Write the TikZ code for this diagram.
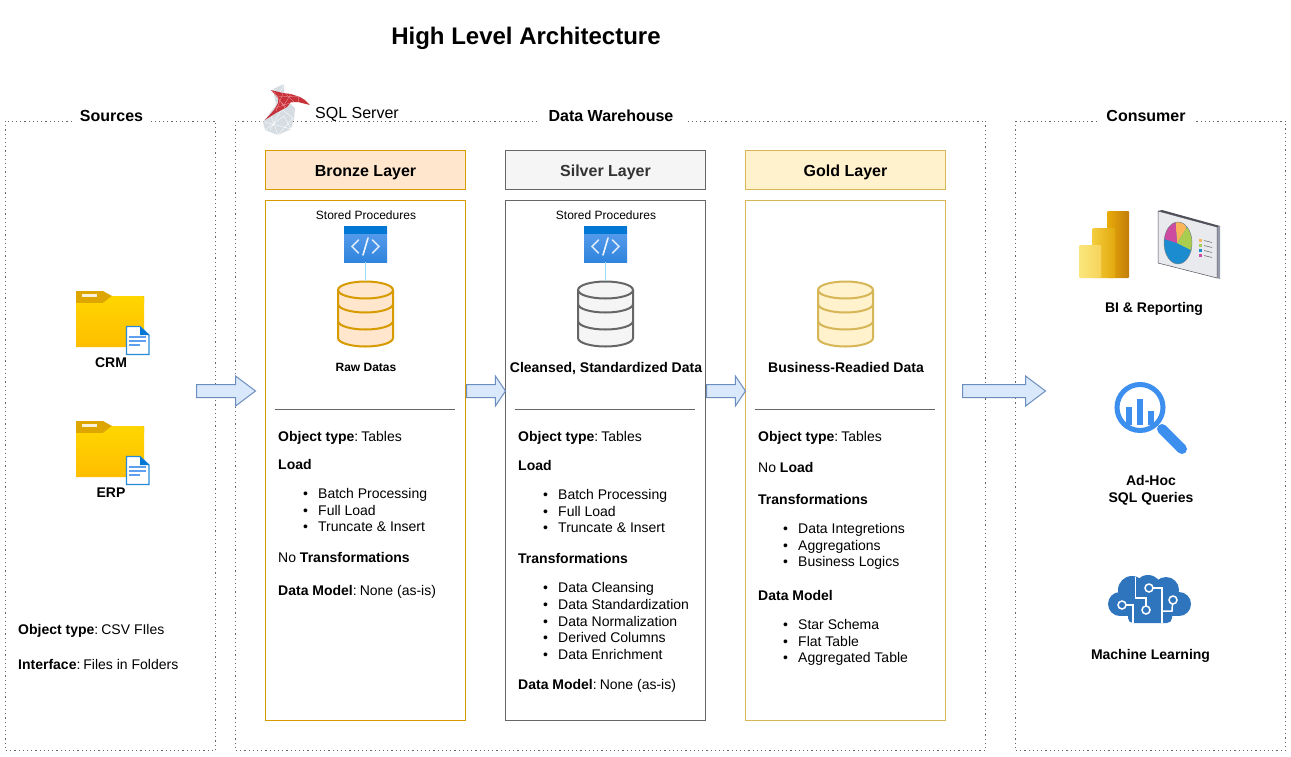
\documentclass[tikz,border=0pt]{standalone}
\usepackage{fontspec}
\setmainfont{Liberation Sans}
\usetikzlibrary{shapes.arrows,calc}
\definecolor{bronzeD}{HTML}{D79B00}\definecolor{bronzeF}{HTML}{FFE6CC}
\definecolor{silverD}{HTML}{666666}\definecolor{silverF}{HTML}{F5F5F5}
\definecolor{goldD}{HTML}{D6B656}\definecolor{goldF}{HTML}{FFF2CC}
\definecolor{arrowD}{HTML}{6C8EBF}\definecolor{arrowF}{HTML}{DAE8FC}
\definecolor{azure}{HTML}{0078D4}\definecolor{azureL}{HTML}{5EA0EF}\definecolor{azureB}{HTML}{2F84DC}
\definecolor{linkC}{HTML}{9ADCF5}
\definecolor{cloudC}{HTML}{2F75BD}\definecolor{lensC}{HTML}{3D8FEF}
\definecolor{sqlR}{HTML}{C8323A}\definecolor{sqlG}{HTML}{D5DDE2}\definecolor{sqlM}{HTML}{EFA0A5}
\definecolor{folderD}{HTML}{DDA600}\definecolor{folderT}{HTML}{FFD600}\definecolor{folderB}{HTML}{FFBE00}
\definecolor{pieB}{HTML}{1B8CCF}\definecolor{pieG}{HTML}{AACD50}\definecolor{pieO}{HTML}{FAB45A}\definecolor{pieP}{HTML}{CD4BA0}
\definecolor{panelF}{HTML}{E8EAEE}\definecolor{panelS}{HTML}{969BAA}\definecolor{panelT}{HTML}{50505A}
\newcount\txtno
\newcommand\fs[1]{\fontsize{#1}{#1}\selectfont}
\newcommand\cln{:\kern3pt }
\tikzset{
  frame/.style={draw=silverD,line width=0.75pt,dash pattern=on 1.2pt off 3pt,fill=none},
  framelabel/.style={fill=white,inner sep=0pt,minimum height=14pt,font=\fs{16}\bfseries,text=black},
  layerhead/.style={draw=#1D,fill=#1F,line width=1pt,minimum width=200pt,minimum height=39pt,inner sep=0pt,text height=13.6pt,text depth=0pt,font=\fs{16}\bfseries},
  layerbody/.style={draw=#1D,fill=white,line width=1pt,minimum width=200pt,minimum height=519.5pt,inner sep=0pt},
  divider/.style={draw=silverD,line width=0.6pt},
  blockarrow/.style={single arrow,draw=arrowD,fill=arrowF,line width=1pt,inner sep=0pt,text height=12pt,text depth=0pt,
    single arrow head extend=8.5pt,single arrow head indent=0pt,anchor=tail},
  iconbox/.style={inner sep=0pt,draw=none},
  body/.style={inner sep=0pt,font=\fs{14},anchor=base west},
  caption/.style={inner sep=0pt,font=\fs{14}\bfseries,anchor=base},
  small/.style={inner sep=0pt,font=\fs{12},anchor=base},
  link/.style={draw=linkC,line width=0.8pt},
}
% left-aligned text line
\newcommand\tl[3]{\global\advance\txtno by 1 \node[body] (t\the\txtno) at (#1,#2+5) {#3};}
% bullet line
\newcommand\bl[3]{\global\advance\txtno by 1 \node[body] (t\the\txtno) at (#1+25,#2+5) {\makebox[15pt][l]{•}#3};}
% stored procedure icon, name, cx
\newcommand\spicon[2]{%
  \node[iconbox,minimum width=43pt,minimum height=36pt,shade,top color=azureL,middle color=azureL,bottom color=azureB] (#1) at (#2,244) {};
  \fill[azure] (#2-21.5,226) rectangle (#2+21.5,233.5);
  \draw[white,opacity=.8,line width=1.6pt,line cap=round,line join=miter]
    (#2-7,240) -- (#2-13.5,246.5) -- (#2-7,253) (#2+7,240) -- (#2+13.5,246.5) -- (#2+7,253);
  \draw[white,opacity=.9,line width=1.6pt,line cap=round] (#2+2.5,238) -- (#2-2.5,255);
}
% database icon: name, cx, layer colour
\newcommand\dbicon[3]{%
  \node[iconbox,minimum width=56pt,minimum height=66pt] (#1) at (#2,314) {};
  \filldraw[draw=#3D,fill=#3F,line width=2pt]
    (#2-27.5,290) -- (#2-27.5,338) arc[start angle=180,end angle=360,x radius=27.5,y radius=-8.5]
    -- (#2+27.5,290) arc[start angle=0,end angle=180,x radius=27.5,y radius=-8.5] -- cycle;
  \draw[#3D,line width=2pt] (#2-27.5,290) arc[start angle=180,end angle=360,x radius=27.5,y radius=-8.5];
  \draw[#3D,line width=2pt] (#2-27.5,304) arc[start angle=180,end angle=360,x radius=27.5,y radius=-8.5];
  \draw[#3D,line width=2pt] (#2-27.5,321) arc[start angle=180,end angle=360,x radius=27.5,y radius=-8.5];
}
% folder icon: name, top y
\newcommand\foldericon[2]{%
  \node[iconbox,minimum width=68pt,minimum height=56pt] (#1) at (110,#2+28) {};
  \fill[folderD] (76,#2) -- (103,#2) -- (112,#2+5) -- (144,#2+5) -- (144,#2+12) -- (76,#2+12) -- cycle;
  \shade[top color=folderT,bottom color=folderB]
    (76,#2+12) -- (103,#2+12) -- (112,#2+5) -- (143,#2+5) -- (144,#2+6) -- (144,#2+56) -- (76,#2+56) -- cycle;
  \fill[white,opacity=.85] (82,#2+2.5) rectangle (97,#2+5.5);
  \filldraw[draw=azure!85!white,fill=white,line width=1.2pt] (126.5,#2+35.5) -- (140,#2+35.5) -- (149,#2+44) -- (149,#2+63.5) -- (126.5,#2+63.5) -- cycle;
  \fill[azure] (140,#2+35.5) -- (149,#2+44) -- (140,#2+44) -- cycle;
  \fill[azureL] (129,#2+45) rectangle (146,#2+47);
  \fill[azureL] (129,#2+49) rectangle (146,#2+51);
  \fill[azureL] (129,#2+53) rectangle (140,#2+55);
}
\begin{document}
\begin{tikzpicture}[x=1pt,y=-1pt]
\fill[white] (0,0) rectangle (1291,756);
\useasboundingbox (0,0) rectangle (1291,756);

\node[inner sep=0pt,font=\fs{24}\bfseries,anchor=base] (title) at (526,44) {High Level Architecture};

% frames
\draw[frame] (5.5,121) rectangle (215.5,750.5);
\draw[frame] (235.5,121) rectangle (985.5,750.5);
\draw[frame] (1015.5,121) rectangle (1285.5,750.5);
\node[framelabel,minimum width=78pt] (srcL) at (111.5,116) {Sources};
\node[framelabel,minimum width=148pt] (dwhL) at (611,116) {Data Warehouse};
\node[framelabel,minimum width=98pt] (conL) at (1146,116) {Consumer};

% SQL Server logo
\fill[sqlG] (273,89) -- (284,84) -- (284,97) -- (286,100) -- (295,108) -- (294,118) -- (291,129) -- (278,135) -- (265,130) -- (263,122) -- (276,105) -- cycle;
\draw[white,line width=.35pt] (265,122) -- (291,129) (270,113) -- (278,135) (284,105) -- (270,130) (276,105) -- (293,118) (273,89) -- (286,100) (284,84) -- (278,97) (265,130) -- (284,116) (278,135) -- (293,118) (284,116) -- (291,129);
\fill[sqlR] (271,90) -- (283,93) -- (291,94) -- (300,97) -- (305,100) -- (310,105) -- (298,102) -- (291,102) -- (287,107) -- (276,113) -- (265,120) -- (274,110) -- (278,103) -- (278,98) -- cycle;
\draw[sqlM,line width=.3pt] (276,96) -- (300,97) (283,93) -- (276,111) (275,108) -- (293,102) (286,94) -- (294,102) (279,100) -- (286,107) (274,92) -- (285,108) (291,94) -- (284,105) (299,97) -- (298,102);
\node[inner sep=0pt,font=\fs{16},anchor=base west] (sql) at (315,118) {SQL Server};

% layers
\node[layerhead=bronze] (bH) at (365.5,170) {Bronze Layer};
\node[layerhead=silver,text=black!80] (sH) at (605.5,170) {Silver Layer};
\node[layerhead=gold] (gH) at (845.5,170) {Gold Layer};
\node[layerbody=bronze] (bB) at (365.5,460.25) {};
\node[layerbody=silver] (sB) at (605.5,460.25) {};
\node[layerbody=gold] (gB) at (845.5,460.25) {};

% icons in layers
\node[small] (spb) at (366,219.5) {Stored Procedures};
\node[small] (sps) at (606,219.5) {Stored Procedures};
\spicon{pb}{365.5}
\spicon{ps}{605.5}
\dbicon{db}{365.5}{bronze}
\dbicon{ds}{605.5}{silver}
\dbicon{dg}{845.5}{gold}
\draw[link] (pb.south) -- (db.north);
\draw[link] (ps.south) -- (ds.north);
\node[inner sep=0pt,font=\fs{12}\bfseries,anchor=base] (cb) at (366,371) {Raw Datas};
\node[caption] (cs) at (606,372) {Cleansed, Standardized Data};
\node[caption] (cg) at (846,372) {Business-Readied Data};

% dividers
\coordinate (d1a) at (275,409.5);\coordinate (d1b) at (455,409.5);
\coordinate (d2a) at (515,409.5);\coordinate (d2b) at (695,409.5);
\coordinate (d3a) at (755,409.5);\coordinate (d3b) at (935,409.5);
\draw[divider] (d1a) -- (d1b);
\draw[divider] (d2a) -- (d2b);
\draw[divider] (d3a) -- (d3b);

% block arrows
\node[blockarrow,minimum height=59pt,single arrow tip angle=74] (a1) at (196,391) {};
\node[blockarrow,minimum height=39pt,single arrow tip angle=112] (a2) at (466,391) {};
\node[blockarrow,minimum height=39pt,single arrow tip angle=112] (a3) at (706,391) {};
\node[blockarrow,minimum height=83pt,single arrow tip angle=74] (a4) at (962,391) {};

% sources
\foldericon{crm}{291}
\foldericon{erp}{421}
\node[caption] (crmT) at (111,367) {CRM};
\node[caption] (erpT) at (111,497) {ERP};
\tl{18}{629}{\textbf{Object type}\cln CSV FIles}
\tl{18}{664}{\textbf{Interface}\cln Files in Folders}

% bronze text
\tl{278}{436}{\textbf{Object type}\cln Tables}
\tl{278}{464}{\textbf{Load}}
\bl{278}{493}{Batch Processing}
\bl{278}{510}{Full Load}
\bl{278}{526}{Truncate \& Insert}
\tl{278}{557}{No \textbf{Transformations}}
\tl{278}{590}{\textbf{Data Model}\cln None (as-is)}

% silver text
\tl{518}{436}{\textbf{Object type}\cln Tables}
\tl{518}{465}{\textbf{Load}}
\bl{518}{494}{Batch Processing}
\bl{518}{511}{Full Load}
\bl{518}{527}{Truncate \& Insert}
\tl{518}{558}{\textbf{Transformations}}
\bl{518}{587}{Data Cleansing}
\bl{518}{604}{Data Standardization}
\bl{518}{621}{Data Normalization}
\bl{518}{637}{Derived Columns}
\bl{518}{654}{Data Enrichment}
\tl{518}{684}{\textbf{Data Model}\cln None (as-is)}

% gold text
\tl{758}{436}{\textbf{Object type}\cln Tables}
\tl{758}{467}{No \textbf{Load}}
\tl{758}{499}{\textbf{Transformations}}
\bl{758}{528}{Data Integretions}
\bl{758}{545}{Aggregations}
\bl{758}{561}{Business Logics}
\tl{758}{595}{\textbf{Data Model}}
\bl{758}{624}{Star Schema}
\bl{758}{641}{Flat Table}
\bl{758}{657}{Aggregated Table}

% Power BI
\shade[left color={rgb,255:red,232;green,172;blue,10},right color={rgb,255:red,194;green,124;blue,10},rounded corners=1pt] (1107,211) rectangle (1129,278);
\shade[left color={rgb,255:red,243;green,205;blue,60},right color={rgb,255:red,226;green,168;blue,14},rounded corners=1pt] (1092.5,228) rectangle (1115,278);
\shade[left color={rgb,255:red,250;green,230;blue,125},right color={rgb,255:red,246;green,212;blue,90},rounded corners=1pt] (1079,245) rectangle (1101,278);
% chart panel
\fill[panelS] (1217,227) -- (1220,226) -- (1220,279) -- (1217,278) -- cycle;
\fill[panelF] (1158,211) -- (1217,227) -- (1217,278) -- (1158,263) -- cycle;
\draw[panelT,line width=.5pt] (1158,263) -- (1158,211) -- (1217,227) -- (1217,278) -- cycle;
\fill[panelT] (1158,211) -- (1162,210) -- (1220,226) -- (1217,227) -- cycle;
\fill[pieB] (1178,243) ellipse[x radius=14,y radius=21];
\begin{scope}
  \clip (1178,243) ellipse[x radius=14,y radius=21];
  \fill[pieO] (1177,243) -- (1175,215) -- (1190,215) -- (1186,229) -- cycle;
  \fill[pieG] (1177,243) -- (1186,229) -- (1195,222) -- (1195,252) -- cycle;
  \fill[pieP] (1177,243) -- (1161,238) -- (1160,215) -- (1175,215) -- cycle;
\end{scope}
\draw[black!50,line width=.4pt] (1178,243) ellipse[x radius=14,y radius=21];
\fill[pieO] (1199,238.5) rectangle (1202,241.5);
\fill[pieG] (1199,243.5) rectangle (1202,246.5);
\fill[pieB] (1199,248.5) rectangle (1202,251.5);
\fill[pieP] (1199,253.5) rectangle (1202,256.5);
\draw[black!60,line width=.5pt] (1204,240.5) -- (1212,242.5) (1204,245.5) -- (1212,247.5) (1204,250.5) -- (1212,252.5) (1204,255.5) -- (1212,257.5);
\node[caption] (bi) at (1154,312) {BI \& Reporting};

% magnifier
\draw[lensC,line width=10pt,line cap=round] (1162,429) -- (1182,449);
\draw[lensC,line width=5pt,fill=white] (1140,407.5) circle[radius=23];
\fill[lensC] (1126,407) rectangle (1132,425);
\fill[lensC] (1137,399) rectangle (1143,425);
\fill[lensC] (1148,411) rectangle (1154,425);
\node[caption] (ah1) at (1151,485) {Ad-Hoc};
\node[caption] (ah2) at (1151,502) {SQL Queries};

% cloud with circuit
\fill[cloudC] (1120,604) circle[radius=12];
\fill[cloudC] (1132,590) circle[radius=14];
\fill[cloudC] (1148,589) circle[radius=14];
\fill[cloudC] (1166,590) circle[radius=13];
\fill[cloudC] (1179,604) circle[radius=12];
\fill[cloudC] (1120,596) rectangle (1179,616);
\fill[cloudC,rounded corners=5pt] (1128,605) rectangle (1172,623);
\begin{scope}[white,line width=1.5pt]
  \draw (1135.5,577) -- (1135.5,598) -- (1146,598) -- (1146,606);
  \draw (1124,605) -- (1133,605) -- (1133,623);
  \draw (1151,588) -- (1162,588) -- (1162,623);
  \draw (1172.5,603) -- (1172,611) -- (1162,611);
  \draw[fill=cloudC] (1146,610) circle[radius=4];
  \draw[fill=cloudC] (1122,605) circle[radius=4];
  \draw[fill=cloudC] (1149,588) circle[radius=4];
  \draw[fill=cloudC] (1173,600) circle[radius=4];
\end{scope}
\node[caption] (ml) at (1150.5,659) {Machine Learning};
\end{tikzpicture}
\end{document}
